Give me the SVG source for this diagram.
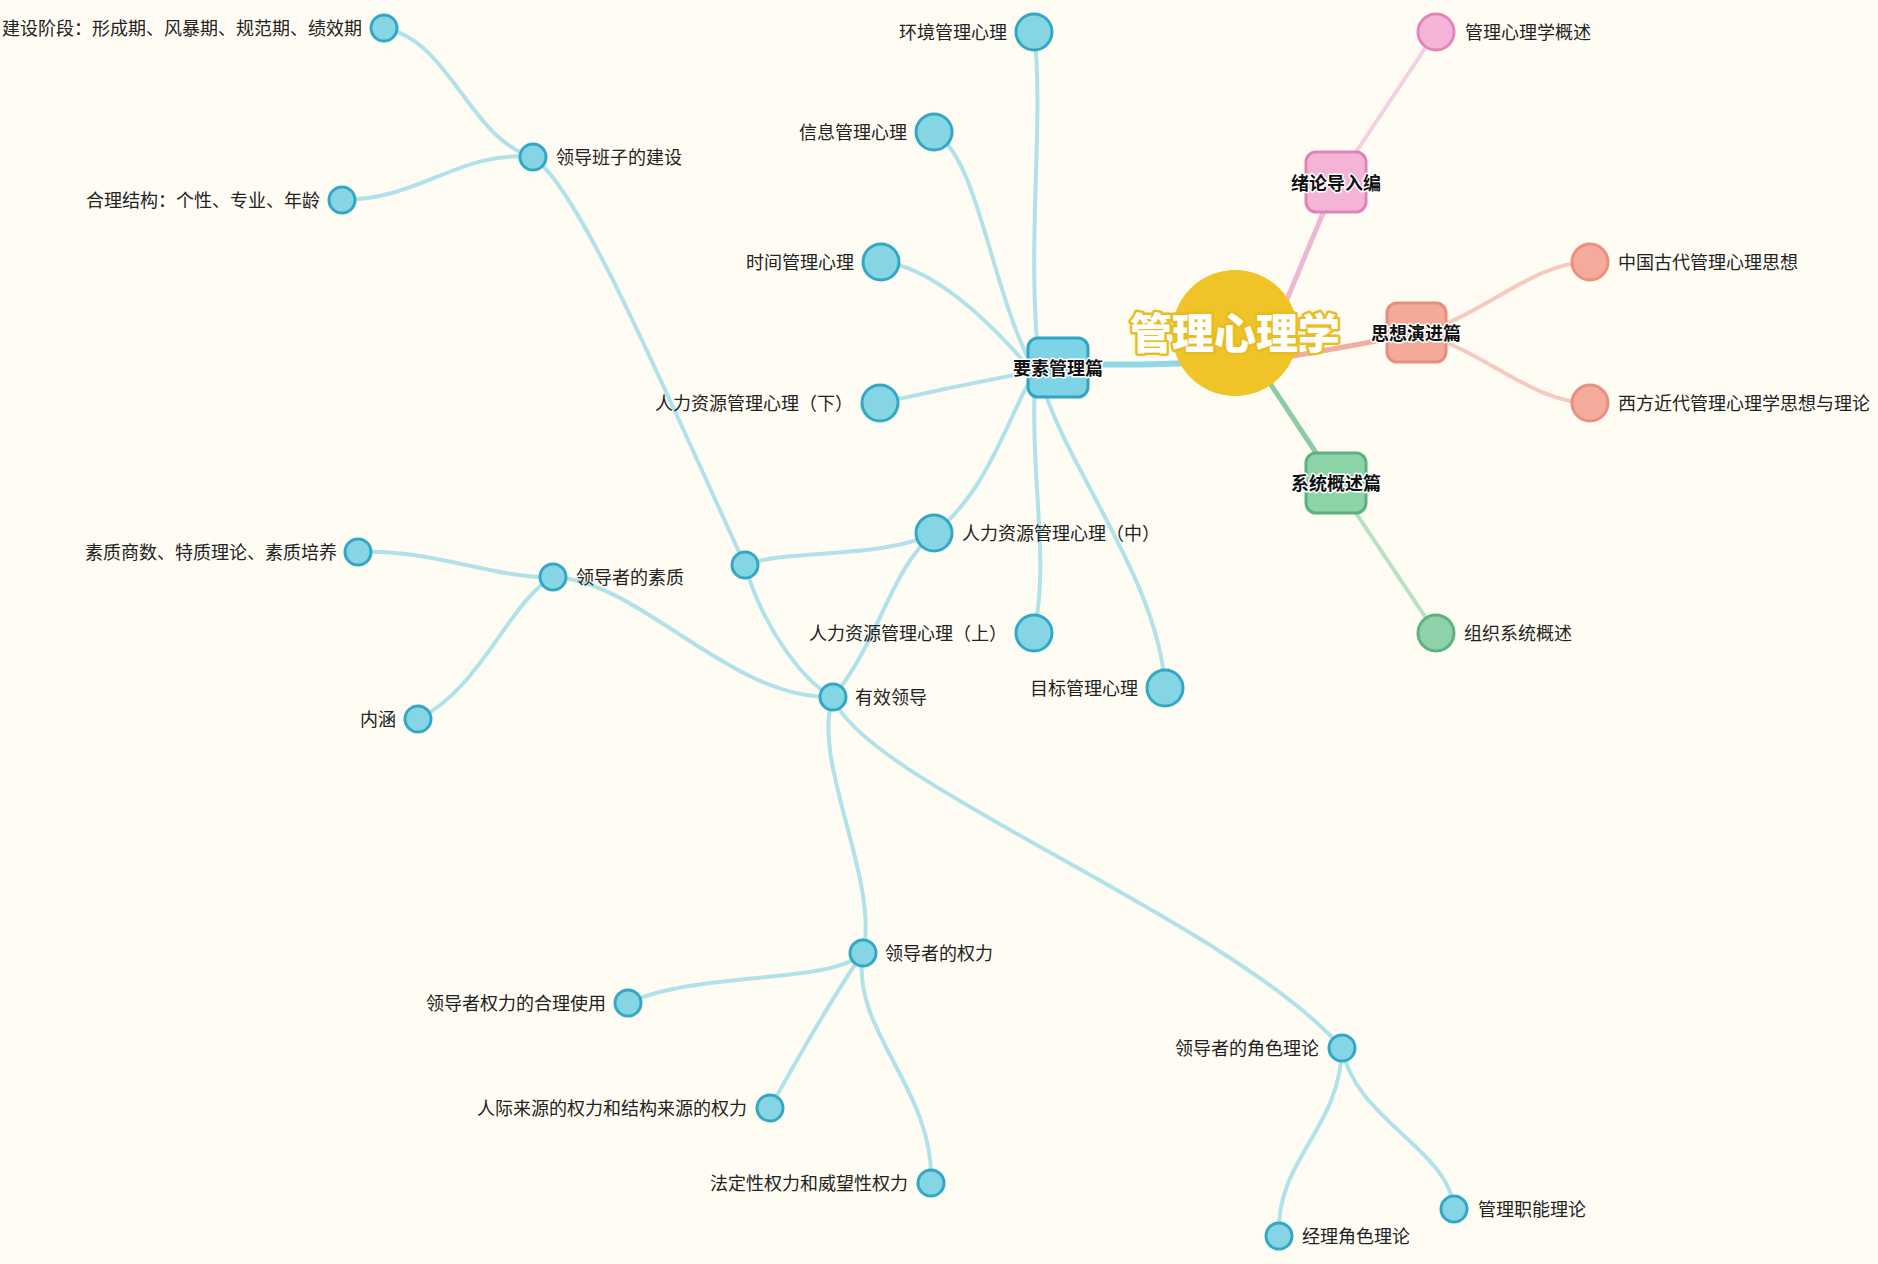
<svg xmlns="http://www.w3.org/2000/svg" width="1878" height="1264" viewBox="0 0 1878 1264">
<style>
text{font-family:"Noto Sans CJK SC","Noto Sans",sans-serif;font-size:18px;fill:#222;dominant-baseline:central}
.l{text-anchor:end}
.cat{font-weight:bold;font-size:18px;fill:#111;text-anchor:middle;stroke:#fff;stroke-width:3;paint-order:stroke fill;stroke-linejoin:round}
.root{font-weight:900;font-size:42px;fill:#fff;text-anchor:middle;stroke:#e9bd1f;stroke-width:5;paint-order:stroke fill;stroke-linejoin:round}
.c path{fill:none;stroke-linecap:round}
.b{stroke:#b1e2ea;stroke-width:4}
.b0{stroke:#8fd6e6;stroke-width:6}
.p0{stroke:#f0b7d5;stroke-width:5}
.p{stroke:#f6cfe3;stroke-width:4}
.s0{stroke:#f2ad9f;stroke-width:5}
.s{stroke:#f6cabf;stroke-width:4}
.g0{stroke:#8ccca2;stroke-width:5}
.g{stroke:#b8e2c6;stroke-width:4}
.nb{fill:#86d5e5;stroke:#33a8c5;stroke-width:3}
.np{fill:#f4b4d7;stroke:#e485b9;stroke-width:3}
.ns{fill:#f5ab9b;stroke:#eb8f7e;stroke-width:3}
.ng{fill:#8fd1a8;stroke:#5db27e;stroke-width:3}
</style>
<rect width="1878" height="1264" fill="#fefcf3"/>
<g id="connectors" class="c">
<path class="b0" d="M1235,360 C1150,368 1100,362 1058,366"/>
<path class="b" d="M1040,372 C1025,250 1045,120 1034,32"/>
<path class="b" d="M1035,372 C990,290 980,160 934,132"/>
<path class="b" d="M1035,375 C990,320 930,265 881,262"/>
<path class="b" d="M1040,370 Q960,385 880,403"/>
<path class="b" d="M1035,372 C1010,410 990,490 934,533"/>
<path class="b" d="M1035,375 C1030,480 1050,560 1034,633"/>
<path class="b" d="M1040,375 C1060,460 1160,580 1165,688"/>
<path class="b" d="M745,565 C790,548 880,560 934,533"/>
<path class="b" d="M934,533 C890,570 880,640 833,697"/>
<path class="b" d="M533,157 C580,190 660,380 745,565"/>
<path class="b" d="M745,565 C760,620 800,680 833,697"/>
<path class="b" d="M553,577 C640,580 730,700 833,697"/>
<path class="b" d="M553,577 C500,580 430,548 358,552"/>
<path class="b" d="M553,577 C510,600 480,690 418,719"/>
<path class="b" d="M533,157 C470,140 450,40 384,28"/>
<path class="b" d="M533,157 C460,150 420,200 342,200"/>
<path class="b" d="M833,697 C810,760 880,880 863,953"/>
<path class="b" d="M833,697 C860,780 1230,920 1342,1048"/>
<path class="b" d="M863,953 C830,985 700,970 628,1003"/>
<path class="b" d="M863,953 Q830,1000 770,1108"/>
<path class="b" d="M863,953 C850,1030 935,1090 931,1183"/>
<path class="b" d="M1342,1048 C1340,1130 1275,1160 1279,1236"/>
<path class="b" d="M1342,1048 C1355,1120 1450,1150 1454,1209"/>
<path class="p0" d="M1270,340 L1336,182"/>
<path class="p" d="M1336,182 L1436,32"/>
<path class="s0" d="M1240,365 C1300,355 1360,345 1416,333"/>
<path class="s" d="M1416,333 C1480,320 1530,262 1590,262"/>
<path class="s" d="M1416,333 C1480,346 1530,403 1590,403"/>
<path class="g0" d="M1250,353 L1336,483"/>
<path class="g" d="M1336,483 L1436,633"/>
</g>
<g id="n-root"><circle cx="1235" cy="333" r="63" fill="#f0c428"/><text class="root" x="1235" y="330">管理心理学</text></g>
<g id="n-yaosu"><rect x="1028" y="338" width="60" height="59" rx="10" fill="#7fd3e6" stroke="#2fa5c3" stroke-width="3"/><text class="cat" x="1058" y="367">要素管理篇</text></g>
<g id="n-sixiang"><rect x="1387" y="303" width="59" height="59" rx="10" fill="#f4aa99" stroke="#ea8d7c" stroke-width="3"/><text class="cat" x="1416" y="332">思想演进篇</text></g>
<g id="n-xitong"><rect x="1306" y="453" width="60" height="60" rx="10" fill="#8dd3a8" stroke="#5cb27e" stroke-width="3"/><text class="cat" x="1336" y="482">系统概述篇</text></g>
<g id="n-xulun"><rect x="1306" y="152" width="60" height="60" rx="10" fill="#f4b4d8" stroke="#e283b8" stroke-width="3"/><text class="cat" x="1336" y="182">绪论导入编</text></g>
<g id="n-gaishu"><circle class="np" cx="1436" cy="32" r="18"/><text x="1465" y="31">管理心理学概述</text></g>
<g id="n-zhongguo"><circle class="ns" cx="1590" cy="262" r="18"/><text x="1618" y="261">中国古代管理心理思想</text></g>
<g id="n-xifang"><circle class="ns" cx="1590" cy="403" r="18"/><text x="1618" y="402">西方近代管理心理学思想与理论</text></g>
<g id="n-zuzhi"><circle class="ng" cx="1436" cy="633" r="18"/><text x="1464" y="632">组织系统概述</text></g>
<g id="n-huanjing"><circle class="nb" cx="1034" cy="32" r="18"/><text class="l" x="1007" y="31">环境管理心理</text></g>
<g id="n-xinxi"><circle class="nb" cx="934" cy="132" r="18"/><text class="l" x="907" y="131">信息管理心理</text></g>
<g id="n-shijian"><circle class="nb" cx="881" cy="262" r="18"/><text class="l" x="854" y="261">时间管理心理</text></g>
<g id="n-rlx"><circle class="nb" cx="880" cy="403" r="18"/><text class="l" x="853" y="402">人力资源管理心理（下）</text></g>
<g id="n-rlz"><circle class="nb" cx="934" cy="533" r="18"/><text x="962" y="532">人力资源管理心理（中）</text></g>
<g id="n-rls"><circle class="nb" cx="1034" cy="633" r="18"/><text class="l" x="1007" y="632">人力资源管理心理（上）</text></g>
<g id="n-mubiao"><circle class="nb" cx="1165" cy="688" r="18"/><text class="l" x="1138" y="687">目标管理心理</text></g>
<g id="n-junction"><circle class="nb" cx="745" cy="565" r="13"/></g>
<g id="n-youxiao"><circle class="nb" cx="833" cy="697" r="13"/><text x="855" y="696">有效领导</text></g>
<g id="n-banzi"><circle class="nb" cx="533" cy="157" r="13"/><text x="556" y="156">领导班子的建设</text></g>
<g id="n-jieduan"><circle class="nb" cx="384" cy="28" r="13"/><text class="l" x="362" y="27">建设阶段：形成期、风暴期、规范期、绩效期</text></g>
<g id="n-jiegou"><circle class="nb" cx="342" cy="200" r="13"/><text class="l" x="320" y="199">合理结构：个性、专业、年龄</text></g>
<g id="n-suzhi"><circle class="nb" cx="553" cy="577" r="13"/><text x="576" y="576">领导者的素质</text></g>
<g id="n-shangshu"><circle class="nb" cx="358" cy="552" r="13"/><text class="l" x="337" y="551">素质商数、特质理论、素质培养</text></g>
<g id="n-neihan"><circle class="nb" cx="418" cy="719" r="13"/><text class="l" x="396" y="718">内涵</text></g>
<g id="n-quanli"><circle class="nb" cx="863" cy="953" r="13"/><text x="885" y="952">领导者的权力</text></g>
<g id="n-heli"><circle class="nb" cx="628" cy="1003" r="13"/><text class="l" x="606" y="1002">领导者权力的合理使用</text></g>
<g id="n-renji"><circle class="nb" cx="770" cy="1108" r="13"/><text class="l" x="747" y="1107">人际来源的权力和结构来源的权力</text></g>
<g id="n-fading"><circle class="nb" cx="931" cy="1183" r="13"/><text class="l" x="908" y="1182">法定性权力和威望性权力</text></g>
<g id="n-juese"><circle class="nb" cx="1342" cy="1048" r="13"/><text class="l" x="1319" y="1047">领导者的角色理论</text></g>
<g id="n-jingli"><circle class="nb" cx="1279" cy="1236" r="13"/><text x="1302" y="1235">经理角色理论</text></g>
<g id="n-zhineng"><circle class="nb" cx="1454" cy="1209" r="13"/><text x="1478" y="1208">管理职能理论</text></g>
</svg>
